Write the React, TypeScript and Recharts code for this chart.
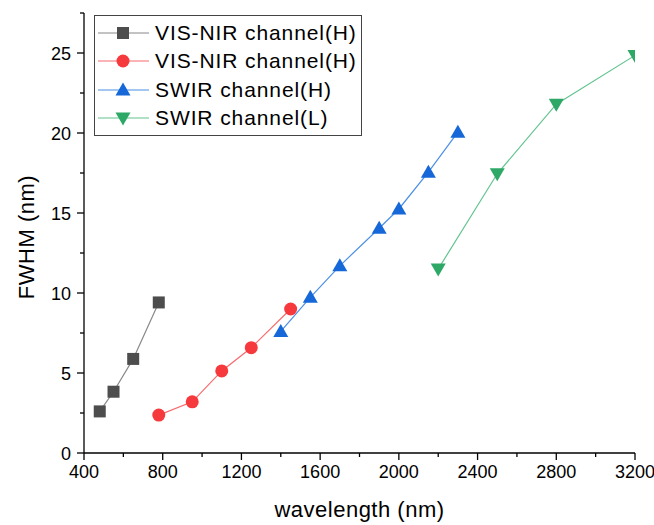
import React from 'react';
import { LineChart, Line, XAxis, YAxis, Legend } from 'recharts';

const visNirAX = [480, 550, 650, 780];
const visNirAY = [2.6, 3.83, 5.88, 9.41];
const visNirBX = [780, 950, 1100, 1250, 1450];
const visNirBY = [2.37, 3.2, 5.13, 6.58, 9.0];
const swirHX = [1400, 1550, 1700, 1900, 2000, 2150, 2300];
const swirHY = [7.6, 9.73, 11.7, 14.05, 15.25, 17.55, 20.05];
const swirLX = [2200, 2500, 2800, 3200];
const swirLY = [11.5, 17.45, 21.8, 24.85];

const xTicks = [400, 600, 800, 1000, 1200, 1400, 1600, 1800, 2000, 2200, 2400, 2600, 2800, 3000, 3200];
const yTicks = [0, 2.5, 5, 7.5, 10, 12.5, 15, 17.5, 20, 22.5, 25, 27.5];

const seriesNames = ['VIS-NIR channel(H)', 'VIS-NIR channel(H)', 'SWIR channel(H)', 'SWIR channel(L)'];

const toRows = (xs: number[], ys: number[]) => xs.map((x, i) => ({ x, y: ys[i] }));

const FONT = '"Liberation Sans", Arial, sans-serif';

const markerFill = ['#4d4d4d', '#f6393d', '#1668d9', '#2ea866'];
const lineColor = ['#888888', '#f86a6c', '#4b8fe6', '#63c490'];

function Marker({ kind, cx, cy }: { kind: number; cx: number; cy: number }) {
  const c = markerFill[kind];
  if (kind === 0) return <rect x={cx - 6} y={cy - 6} width={12} height={12} fill={c} />;
  if (kind === 1) return <circle cx={cx} cy={cy} r={6.5} fill={c} />;
  if (kind === 2)
    return <polygon points={`${cx},${cy - 7.5} ${cx + 7.5},${cy + 5.5} ${cx - 7.5},${cy + 5.5}`} fill={c} />;
  return <polygon points={`${cx},${cy + 7.5} ${cx + 7.5},${cy - 5.5} ${cx - 7.5},${cy - 5.5}`} fill={c} />;
}

const makeDot = (kind: number) => (props: any) => {
  const { cx, cy, index } = props;
  if (cx == null || cy == null) return <g key={`d${kind}-${index}`} />;
  return <Marker key={`d${kind}-${index}`} kind={kind} cx={cx} cy={cy} />;
};

const XTick = (props: any) => {
  const { x, y, payload } = props;
  const major = payload.value % 400 === 0;
  return (
    <g>
      <line x1={x} x2={x} y1={y} y2={y + (major ? 7 : 4)} stroke="#000" strokeWidth={1.3} />
      {major && (
        <text x={x} y={y + 25} textAnchor="middle" fontSize={18} fontFamily={FONT} fill="#000">
          {payload.value}
        </text>
      )}
    </g>
  );
};

const YTick = (props: any) => {
  const { x, y, payload } = props;
  const major = payload.value % 5 === 0;
  return (
    <g>
      <line x1={x} x2={x - (major ? 7 : 4)} y1={y} y2={y} stroke="#000" strokeWidth={1.3} />
      {major && (
        <text x={x - 13} y={y + 6.5} textAnchor="end" fontSize={18} fontFamily={FONT} fill="#000">
          {payload.value}
        </text>
      )}
    </g>
  );
};

const LegendBox = () => (
  <div
    style={{
      border: '1px solid #444',
      background: '#fff',
      padding: '3px 0 3px 0',
      fontFamily: FONT,
      boxSizing: 'border-box',
      width: 268,
    }}
  >
    {seriesNames.map((name, i) => (
      <div key={i} style={{ display: 'flex', alignItems: 'center', height: 28.3 }}>
        <svg width={60} height={20} style={{ display: 'block' }}>
          <line x1={3} x2={54} y1={10} y2={10} stroke={lineColor[i]} strokeWidth={1.2} />
          <Marker kind={i} cx={28} cy={10} />
        </svg>
        <span style={{ fontSize: 21, color: '#000', letterSpacing: 0.9, whiteSpace: 'nowrap' }}>{name}</span>
      </div>
    ))}
  </div>
);

export default function App() {
  const all = [
    toRows(visNirAX, visNirAY),
    toRows(visNirBX, visNirBY),
    toRows(swirHX, swirHY),
    toRows(swirLX, swirLY),
  ];
  return (
    <div style={{ position: 'absolute', left: 0, top: 0, width: 654, height: 525, background: '#fff' }}>
      <LineChart width={654} height={525} margin={{ top: 13, right: 19, bottom: 0, left: 0 }}>
        <XAxis
          type="number"
          dataKey="x"
          domain={[400, 3200]}
          ticks={xTicks}
          interval={0}
          tickSize={0}
          tickMargin={0}
          tickLine={false}
          tick={<XTick />}
          height={72}
          axisLine={{ stroke: '#000', strokeWidth: 1.3 }}
          allowDataOverflow
          label={(p: any) => {
            const vb = p.viewBox;
            return (
              <text
                x={vb.x + vb.width / 2}
                y={vb.y + 64}
                textAnchor="middle"
                fontSize={22}
                fontFamily={FONT}
                fill="#000"
                letterSpacing={0.5}
              >
                wavelength (nm)
              </text>
            );
          }}
        />
        <YAxis
          type="number"
          dataKey="y"
          domain={[0, 27.5]}
          ticks={yTicks}
          interval={0}
          tickSize={0}
          tickMargin={0}
          tickLine={false}
          tick={<YTick />}
          width={84}
          axisLine={{ stroke: '#000', strokeWidth: 1.3 }}
          allowDataOverflow
          label={(p: any) => {
            const vb = p.viewBox;
            const cx = vb.x + 26;
            const cy = vb.y + vb.height / 2 + 4;
            return (
              <text
                x={cx}
                y={cy}
                transform={`rotate(-90, ${cx}, ${cy})`}
                textAnchor="middle"
                dominantBaseline="central"
                fontSize={22}
                fontFamily={FONT}
                fill="#000"
                letterSpacing={0.5}
              >
                FWHM (nm)
              </text>
            );
          }}
        />
        <Legend
          layout="vertical"
          align="center"
          verticalAlign="middle"
          content={() => <LegendBox />}
          wrapperStyle={{ left: 94, top: 15, width: 268, height: 'auto' }}
        />
        {all.map((rows, i) => (
          <Line
            key={i}
            data={rows}
            dataKey="y"
            name={seriesNames[i]}
            stroke={lineColor[i]}
            strokeWidth={1.2}
            dot={makeDot(i)}
            activeDot={false}
            isAnimationActive={false}
            legendType="none"
          />
        ))}
      </LineChart>
    </div>
  );
}
